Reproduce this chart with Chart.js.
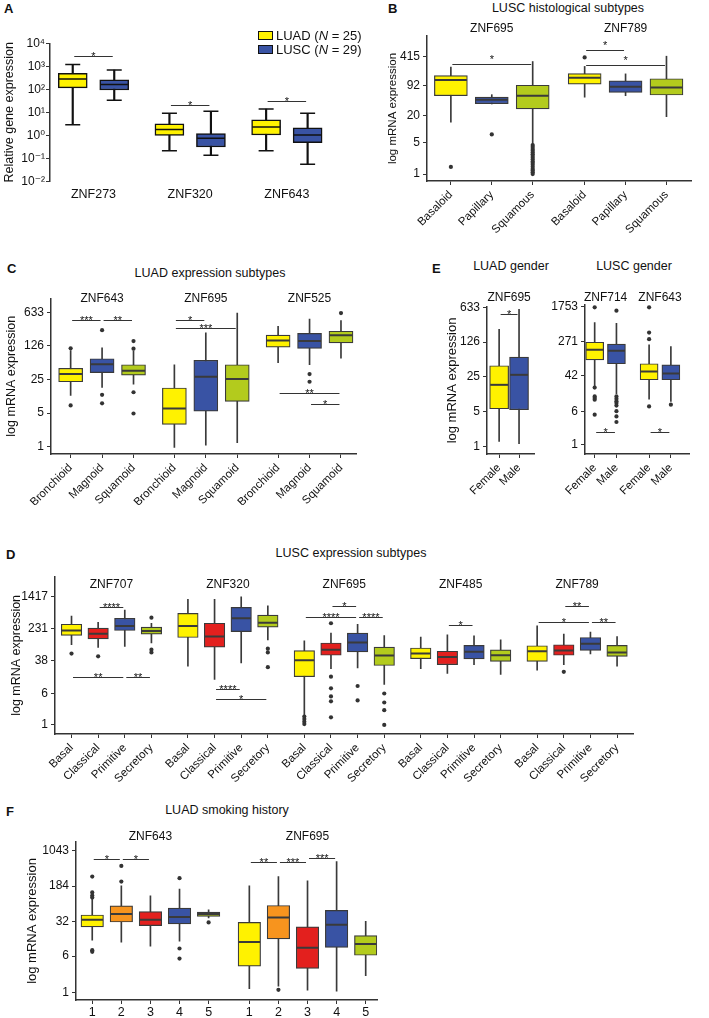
<!DOCTYPE html>
<html>
<head>
<meta charset="utf-8">
<script src="https://cdn.jsdelivr.net/npm/chart.js@4.4.1/dist/chart.umd.min.js"></script>
<style>
  body { margin: 0; background: #fff; font-family: "Liberation Sans", Arial, sans-serif; color: #111; }
  #fig { position: relative; width: 709px; height: 1018px; overflow: hidden; }
  canvas { position: absolute; }
  .txt { position: absolute; white-space: nowrap; transform: translate(-50%, -50%); line-height: 1; }
  .let { position: absolute; font-weight: bold; font-size: 13px; line-height: 1; }
  .key { position: absolute; width: 13px; height: 7px; border: 1px solid #111; }
</style>
</head>
<body>
<div id="fig"></div>
<script>
// ---- colours of the groups ----
const YEL = "#FFF200", BLU = "#3953A4", GRN = "#B3CB1D", RED = "#E3201E", ORA = "#F7941E";

// ---- A: qPCR, LUAD vs LUSC ----
const aGenes = ["ZNF273", "ZNF320", "ZNF643"];
const aCohorts = ["LUAD", "LUSC"];
const aN = [25, 29];
const aMin = [3.0, 35, 0.22, 0.14, 0.22, 0.056];
const aQ1 = [122, 98, 1.03, 0.32, 1.07, 0.5];
const aMed = [293, 170, 1.86, 0.77, 2.4, 1.07];
const aQ3 = [530, 275, 3.3, 1.22, 4.9, 2.2];
const aMax = [1277, 727, 9.5, 11.5, 14.4, 9.5];
const aTicks = [0.01, 0.1, 1, 10, 100, 1000, 10000];
const aTickText = ["10\u207B\u00B2", "10\u207B\u00B9", "10\u2070", "10\u00B9", "10\u00B2", "10\u00B3", "10\u2074"];
const aSig = [[0, 0, 1, 3000, "*"], [1, 0, 1, 21, "*"], [2, 0, 1, 31, "*"]];

// ---- B: LUSC histological subtypes ----
const bGenes = ["ZNF695", "ZNF789"];
const bTypes = ["Basaloid", "Papillary", "Squamous"];
const bMin = [14.2, 36, 4.6, 51, 55, 18.8];
const bQ1 = [55, 36.5, 28, 99, 65, 57];
const bMed = [123, 45, 55, 137, 87, 84];
const bQ3 = [154, 51, 94, 170, 117, 131];
const bMax = [238, 58, 316, 246, 168, 415];
const bOut = [[1.44], [7.6], [4.4, 4.0, 3.6, 3.3, 3.0, 2.75, 2.5, 2.3, 2.1, 1.9, 1.75, 1.6, 1.45, 1.3, 1.2, 1.1, 1.0], [390], [], []];
const bTicks = [1, 5, 20, 92, 415];
const bSig = [[0, 0, 2, 277, "*"], [1, 0, 1, 562, "*"], [1, 0, 2, 267, "*"]];

// ---- C: LUAD expression subtypes ----
const cGenes = ["ZNF643", "ZNF695", "ZNF525"];
const cTypes = ["Bronchioid", "Magnoid", "Squamoid"];
const cMin = [11.6, 17.2, 20, 0.96, 1.07, 1.2, 56, 51, 70];
const cQ1 = [22.5, 35, 31, 2.9, 5.5, 8.8, 119, 112, 146];
const cMed = [32.5, 52, 38, 6.2, 28.6, 25.6, 164, 159, 211];
const cQ3 = [43, 68, 51, 16.7, 63, 51, 211, 229, 255];
const cMax = [100, 115, 99, 51, 235, 610, 324, 458, 425];
const cOut = [[112, 7.2], [268, 12, 8], [159, 110, 13.6, 4.9], [], [], [], [], [32.5, 22.5], [610]];
const cTicks = [1, 5, 25, 126, 633];
const cSig = [[0, 0, 1, 431, "***"], [0, 1, 2, 431, "**"], [1, 0, 1, 445, "*"], [1, 0, 2, 299, "***"], [2, 0, 2, 13.2, "**"], [2, 1, 2, 7.8, "*"]];

// ---- E: gender ----
const eSex = ["Female", "Male"];
const eLuadGenes = ["ZNF695"];
const eLuadMin = [1.26, 1.13];
const eLuadQ1 = [5.7, 5.46];
const eLuadMed = [17.3, 27.5];
const eLuadQ3 = [41.9, 62.4];
const eLuadMax = [228, 574];
const eLuadTicks = [1, 5, 25, 126, 633];
const eLuadSig = [[0, 0, 1, 462, "*"]];
const eLuscGenes = ["ZNF714", "ZNF643"];
const eLuscMin = [24.3, 15.7, 11.8, 10.4];
const eLuscQ1 = [99, 80, 33.6, 33.6];
const eLuscMed = [170, 161, 52.6, 47.2];
const eLuscQ3 = [257, 231, 80, 75.5];
const eLuscMax = [743, 719, 222, 203];
const eLuscOut = [[1706, 22, 13.6, 12.5, 11.4, 5.06], [1422, 13.6, 12, 10.5, 9.5, 8.3, 6.1, 4.6, 3.4], [1706, 433, 303, 7.9], [8.7]];
const eLuscTicks = [1, 6, 42, 271, 1753];
const eLuscSig = [[0, 0, 1, 1.99, "*"], [1, 0, 1, 1.99, "*"]];

// ---- D: LUSC expression subtypes ----
const dGenes = ["ZNF707", "ZNF320", "ZNF695", "ZNF485", "ZNF789"];
const dTypes = ["Basal", "Classical", "Primitive", "Secretory"];
const dMin = [92.5, 79.5, 84, 102, 27.5, 13.1, 33, 122, 1.75, 24, 25, 9.9, 24, 18.3, 30, 17.3, 22, 30, 55, 27.5];
const dQ1 = [156, 129, 206, 168, 139, 81, 194, 249, 15.2, 51, 61.5, 28.6, 42, 30, 41.6, 36, 36, 51, 67, 48];
const dMed = [206, 171, 267, 202, 267, 147, 411, 321, 38.5, 70, 105, 50, 56, 46.5, 62.5, 51, 64, 67, 98, 60];
const dQ3 = [294, 235, 411, 249, 543, 311, 760, 494, 66, 102, 178, 81, 77, 64, 89, 69, 87.5, 92.5, 139, 89];
const dMax = [468, 329, 654, 311, 1190, 1190, 1375, 832, 116, 178, 294, 156, 142, 162, 153, 122, 267, 168, 188, 147];
const dOut = [[56], [48], [], [425, 70, 60], [], [], [], [74, 60, 26],
  [1.6, 1.4, 1.2, 1.05], [311, 15.2, 7.9, 5, 3.8, 1.54], [9, 4], [5.9, 3.55, 2.3, 1.0],
  [], [], [], [], [], [20], [], []];
const dTicks = [1, 6, 38, 231, 1417];
const dSig = [[0, 1, 2, 787, "****"], [0, 0, 2, 14.9, "**"], [0, 2, 3, 14.9, "**"],
  [1, 1, 2, 7.5, "****"], [1, 1, 3, 4.3, "*"],
  [2, 0, 2, 435, "****"], [2, 1, 2, 832, "*"], [2, 2, 3, 435, "****"],
  [3, 1, 2, 288, "*"],
  [4, 1, 2, 832, "**"], [4, 0, 2, 329, "*"], [4, 2, 3, 329, "**"]];

// ---- F: LUAD smoking history ----
const fGenes = ["ZNF643", "ZNF695"];
const fGroups = ["1", "2", "3", "4", "5"];
const fMin = [13, 11.8, 9.7, 12.4, 38.7, 1.22, 1.38, 1.13, 1.08, 2.3];
const fQ1 = [25, 31.8, 26.6, 28.9, 41.9, 3.66, 13.9, 3.27, 9.2, 6.25];
const fMed = [35.6, 47, 35.6, 40.6, 47, 12, 39.8, 9, 27.9, 10.9];
const fQ3 = [44.8, 70, 53, 63, 51.8, 31.2, 71.4, 25, 56, 16.3];
const fMax = [102, 187, 115, 159, 58, 187, 294, 238, 610, 32.8];
const fOut = [[294, 135, 116, 105, 8.0, 7.4], [494, 230], [], [272, 8.7, 5.3], [31.2], [], [1.15], [], [], []];
const fTicks = [1, 6, 32, 184, 1043];
const fSig = [[0, 0, 1, 686, "*"], [0, 1, 2, 686, "*"], [1, 0, 1, 610, "**"], [1, 1, 2, 610, "***"], [1, 2, 3, 741, "***"]];

const FONT = '"Liberation Sans", Arial, "DejaVu Sans", sans-serif';
const fig = document.getElementById("fig");

function addText(text, x, y, size, cls) {
  const el = document.createElement("div");
  el.className = cls || "txt";
  el.style.left = x + "px";
  el.style.top = y + "px";
  if (size) el.style.fontSize = size + "px";
  el.innerHTML = text;
  fig.appendChild(el);
  return el;
}

// gene titles above each group and the significance bars
const annot = {
  id: "annot",
  afterDatasetsDraw(chart, args, o) {
    const ctx = chart.ctx, xs = chart.scales.x, ys = chart.scales.y;
    ctx.save();
    ctx.fillStyle = "#111";
    ctx.font = "12px " + FONT;
    ctx.textAlign = "center";
    ctx.textBaseline = "middle";
    (o.titles || []).forEach(t => ctx.fillText(t.text, xs.getPixelForValue(t.x), o.titleY));
    ctx.strokeStyle = "#333";
    ctx.lineWidth = 1;
    ctx.font = "11px " + FONT;
    ctx.textBaseline = "alphabetic";
    (o.sig || []).forEach(s => {
      const x1 = xs.getPixelForValue(s.x1) + 1.5, x2 = xs.getPixelForValue(s.x2) - 1.5;
      const yy = Math.round(ys.getPixelForValue(s.y)) + 0.5;
      ctx.beginPath(); ctx.moveTo(x1, yy); ctx.lineTo(x2, yy); ctx.stroke();
      ctx.fillText(s.label, (x1 + x2) / 2, yy + o.starDy);
    });
    ctx.restore();
  }
};

function boxPanel(p) {
  const cv = document.createElement("canvas");
  cv.width = p.rect[2]; cv.height = p.rect[3];
  cv.style.left = p.rect[0] + "px"; cv.style.top = p.rect[1] + "px";
  fig.appendChild(cv);

  const n = p.groups.length, stride = n + p.gap;
  const pos = [], fill = [];
  p.genes.forEach((g, gi) => p.groups.forEach((c, ci) => { pos.push(gi * stride + ci); fill.push(p.colors[ci]); }));
  const centers = p.genes.map((g, gi) => gi * stride + (n - 1) / 2);
  const tickPos = p.geneLabels ? centers : pos;
  const tickTxt = p.geneLabels ? p.genes : p.genes.flatMap(() => p.groups);

  const [L, T, R, B] = p.plot;
  const yW = L - p.rect[0], xH = p.rect[1] + p.rect[3] - B;
  const padT = T - p.rect[1], padR = p.rect[0] + p.rect[2] - R;
  const xMin = (L - p.x0) / p.unit, xMax = (R - p.x0) / p.unit;
  const yMin = Math.pow(10, (p.cal[0] - B) / p.cal[1]), yMax = Math.pow(10, (p.cal[0] - T) / p.cal[1]);

  const pts = arr => arr.map((v, i) => ({ x: pos[i], y: v }));
  const outPts = [];
  (p.out || []).forEach((list, i) => list.forEach(v => outPts.push({ x: pos[i], y: v })));

  const datasets = [
    { type: "bar", data: pos.map((x, i) => ({ x, y: [p.min[i], p.max[i]] })), backgroundColor: p.whisk,
      borderWidth: 0, barThickness: p.whiskW, grouped: false, order: 6 },
    { type: "bar", data: pos.map((x, i) => ({ x, y: [p.q1[i], p.q3[i]] })), backgroundColor: fill,
      borderColor: p.edge, borderWidth: p.edgeW, borderSkipped: false, barThickness: p.boxW, grouped: false, order: 5 },
    { type: "scatter", data: pts(p.med), pointStyle: "line", pointRadius: p.boxW / 2 - 0.5, pointBorderColor: p.edge,
      pointBorderWidth: p.medW, order: 3 },
    { type: "scatter", data: outPts, pointRadius: 2.1, pointBackgroundColor: "#333", pointBorderWidth: 0, order: 1 }
  ];
  if (p.caps) {
    datasets.push({ type: "scatter", data: pts(p.min).concat(pts(p.max)), pointStyle: "line", pointRadius: p.caps,
      pointBorderColor: p.whisk, pointBorderWidth: p.whiskW, order: 4 });
  }

  const axisFont = { family: FONT, size: 12 };
  new Chart(cv, {
    type: "bar",
    data: { datasets },
    options: {
      responsive: false,
      animation: false,
      events: [],
      layout: { padding: { left: 0, top: padT, right: padR, bottom: 0 } },
      plugins: {
        legend: { display: false },
        tooltip: { enabled: false },
        annot: {
          titleY: p.titleY - p.rect[1],
          starDy: p.starDy,
          titles: p.geneLabels ? [] : p.genes.map((g, gi) => ({ text: g, x: centers[gi] })),
          sig: p.sig.map(s => ({ x1: pos[s[0] * n + s[1]], x2: pos[s[0] * n + s[2]], y: s[3], label: s[4] }))
        }
      },
      scales: {
        x: {
          type: "linear", min: xMin, max: xMax, offset: false, bounds: "data",
          afterBuildTicks: s => { s.ticks = tickPos.map(v => ({ value: v })); },
          afterFit: s => { s.height = xH; },
          ticks: { autoSkip: false, minRotation: p.rot, maxRotation: p.rot, padding: p.xPad,
            font: { family: FONT, size: p.xFont }, color: "#111", callback: (v, i) => tickTxt[i] },
          grid: { display: p.xTicks, offset: false, drawOnChartArea: false, drawTicks: p.xTicks, tickLength: 4, color: "#333" },
          border: { display: p.xAxis, color: "#333", width: p.axisW }
        },
        y: {
          type: "logarithmic", min: yMin, max: yMax,
          afterBuildTicks: s => { s.ticks = p.ticks.map(v => ({ value: v })); },
          afterFit: s => { s.width = yW; },
          ticks: { autoSkip: false, padding: p.yPad, font: axisFont, color: "#111",
            callback: (v, i) => p.tickText ? p.tickText[i] : String(p.ticks[i]) },
          grid: { display: true, drawOnChartArea: false, drawTicks: true, tickLength: 4, color: "#333" },
          border: { display: true, color: "#333", width: p.axisW },
          title: { display: !!p.yTitle, text: p.yTitle || "", color: "#111",
            font: { family: FONT, size: p.yTitleSize || 12 }, padding: { top: p.titlePad || 0, bottom: 0 } }
        }
      }
    },
    plugins: [annot]
  });
}

const gg = { whisk: "#3a3a3a", whiskW: 1, edge: "#3a3a3a", edgeW: 1.2, medW: 2, axisW: 1.5,
  rot: 45, xFont: 11.5, xPad: 3, yPad: 3, xTicks: true, xAxis: true, starDy: 3 };

// A
boxPanel({ genes: aGenes, groups: aCohorts, colors: [YEL, BLU], min: aMin, q1: aQ1, med: aMed, q3: aQ3, max: aMax, out: [],
  ticks: aTicks, tickText: aTickText, sig: aSig, geneLabels: true,
  rect: [0, 28, 345, 177], plot: [50, 40, 345, 181], cal: [134.5, 23.5], x0: 74, unit: 43.8, gap: 0.33, boxW: 29,
  whisk: "#111", whiskW: 1.5, edge: "#111", edgeW: 1.5, medW: 1.5, caps: 7.5, axisW: 1.5,
  rot: 0, xFont: 12.5, xPad: 6, yPad: 1, xTicks: false, xAxis: false, starDy: 3,
  yTitle: "Relative gene expression", yTitleSize: 12.5, titlePad: 2.5, titleY: 0 });

// B
boxPanel(Object.assign({}, gg, { genes: bGenes, groups: bTypes, colors: [YEL, BLU, GRN],
  min: bMin, q1: bQ1, med: bMed, q3: bQ3, max: bMax, out: bOut, ticks: bTicks, sig: bSig,
  rect: [380, 18, 329, 232], plot: [427, 32, 709, 181], cal: [174, 46.3], x0: 452.5, unit: 43.7, gap: 0.27, boxW: 33,
  yTitle: "log mRNA expression", yTitleSize: 11.5, titlePad: 6, titleY: 29, starDy: -2 }));

// C
boxPanel(Object.assign({}, gg, { genes: cGenes, groups: cTypes, colors: [YEL, BLU, GRN],
  min: cMin, q1: cQ1, med: cMed, q3: cQ3, max: cMax, out: cOut, ticks: cTicks, sig: cSig,
  rect: [0, 285, 370, 220], plot: [51, 297, 362, 454], cal: [446.5, 48.4], x0: 71, unit: 32, gap: 0.3, boxW: 24,
  yTitle: "log mRNA expression", yTitleSize: 12.5, titlePad: 4, titleY: 298.5 }));

// E, LUAD
boxPanel(Object.assign({}, gg, { genes: eLuadGenes, groups: eSex, colors: [YEL, BLU],
  min: eLuadMin, q1: eLuadQ1, med: eLuadMed, q3: eLuadQ3, max: eLuadMax, out: [[], []], ticks: eLuadTicks, sig: eLuadSig,
  rect: [440, 290, 105, 215], plot: [487, 307, 542, 454], cal: [446.7, 49.8], x0: 501.2, unit: 23.3, gap: 0, boxW: 19,
  yTitle: "log mRNA expression", yTitleSize: 13, titlePad: 5, titleY: 297.7 }));

// E, LUSC
boxPanel(Object.assign({}, gg, { genes: eLuscGenes, groups: eSex, colors: [YEL, BLU],
  min: eLuscMin, q1: eLuscQ1, med: eLuscMed, q3: eLuscQ3, max: eLuscMax, out: eLuscOut, ticks: eLuscTicks, sig: eLuscSig,
  rect: [545, 290, 155, 215], plot: [585, 305, 693, 454], cal: [445, 42.6], x0: 595, unit: 22.5, gap: 0.5, boxW: 18,
  titleY: 297.7 }));

// D
boxPanel(Object.assign({}, gg, { genes: dGenes, groups: dTypes, colors: [YEL, RED, BLU, GRN],
  min: dMin, q1: dQ1, med: dMed, q3: dQ3, max: dMax, out: dOut, ticks: dTicks, sig: dSig,
  rect: [0, 565, 645, 220], plot: [55, 576, 640, 734], cal: [726, 41.3], x0: 71.7, unit: 26.95, gap: 0.37, boxW: 20.5,
  yTitle: "log mRNA expression", yTitleSize: 12.5, titlePad: 9, titleY: 585 }));

// F
boxPanel(Object.assign({}, gg, { genes: fGenes, groups: fGroups, colors: [YEL, ORA, RED, BLU, GRN],
  min: fMin, q1: fQ1, med: fMed, q3: fQ3, max: fMax, out: fOut, ticks: fTicks, sig: fSig,
  rect: [0, 825, 390, 193], plot: [76, 842, 382, 1000], cal: [993.3, 47.25], x0: 92.5, unit: 29.55, gap: 0.4, boxW: 22.5,
  rot: 0, xFont: 12.5, xPad: 1,
  yTitle: "log mRNA expression", yTitleSize: 13, titlePad: 25, titleY: 836.7 }));

// panel letters and titles
addText("A", 4, 2, null, "let");
addText("B", 388, 2, null, "let");
addText("C", 7, 262, null, "let");
addText("E", 432, 262, null, "let");
addText("D", 6, 548, null, "let");
addText("F", 6, 805, null, "let");
addText("LUSC histological subtypes", 568, 8, 12.5);
addText("LUAD expression subtypes", 210, 273, 12.5);
addText("LUAD gender", 511, 266, 12.5);
addText("LUSC gender", 634, 266, 12.5);
addText("LUSC expression subtypes", 351, 553, 12.5);
addText("LUAD smoking history", 227, 810, 12.5);

// legend of A
[YEL, BLU].forEach((c, i) => {
  const k = document.createElement("div");
  k.className = "key";
  k.style.left = "258px"; k.style.top = (31 + i * 14) + "px"; k.style.background = c;
  fig.appendChild(k);
  const t = addText(aCohorts[i] + " (<i>N</i> = " + aN[i] + ")", 276, 35 + i * 14, 13, "txt");
  t.style.transform = "translate(0, -50%)";
});
</script>
</body>
</html>
